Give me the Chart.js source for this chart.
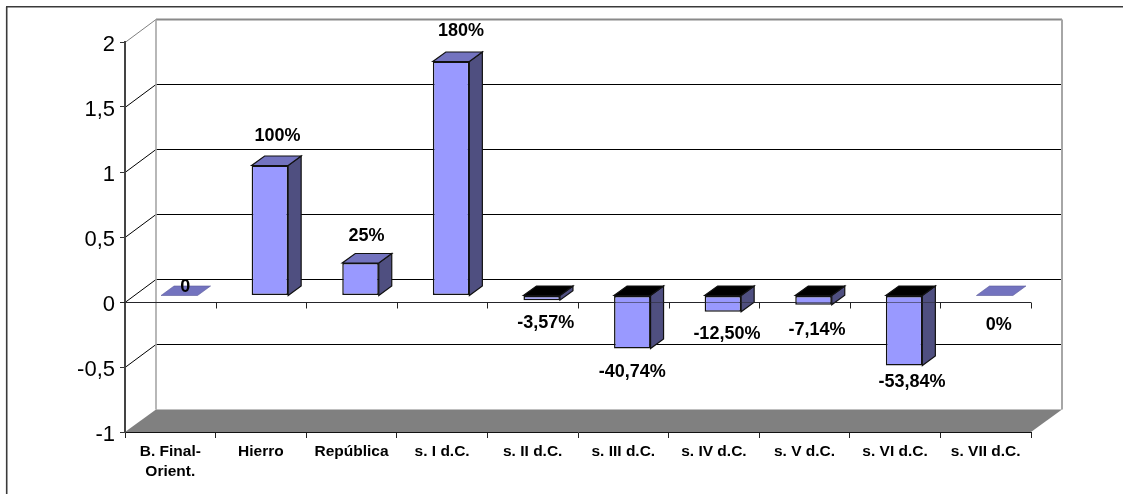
<!DOCTYPE html>
<html><head><meta charset="utf-8">
<style>html,body{margin:0;padding:0;background:#fff}canvas{display:block}</style>
<script src="https://cdn.jsdelivr.net/npm/chart.js@4"></script>
</head><body><canvas id="c" width="1123" height="494"></canvas>
<script>
const categories = [["B. Final-","Orient."],"Hierro","República","s. I d.C.","s. II d.C.","s. III d.C.","s. IV d.C.","s. V d.C.","s. VI d.C.","s. VII d.C."];
const values = [0,1,0.25,1.8,-0.0357,-0.4074,-0.125,-0.0714,-0.5384,0];
const valueLabels = ["0","100%","25%","180%","-3,57%","-40,74%","-12,50%","-7,14%","-53,84%","0%"];
const labelNudgeX = [15,16.5,15,19,13,9,13,12.5,17,13];
const labelNudgeY = [-14.5,-36,-33.5,-37,16.6,17.5,16,19,10,23];
const WALL_DX=31, WALL_DY=22.5, BAR_DX=9, BAR_DY=6.5, DEPTH_X=13, DEPTH_Y=9.5;
function poly(ctx,pts,fill,stroke,lw){ctx.beginPath();pts.forEach((p,i)=>i?ctx.lineTo(p[0],p[1]):ctx.moveTo(p[0],p[1]));ctx.closePath();
  if(fill){ctx.fillStyle=fill;ctx.fill();}
  if(stroke){ctx.strokeStyle=stroke;ctx.lineWidth=lw||1;ctx.stroke();}}
function seg(ctx,a,b,c,d,color,lw){ctx.beginPath();ctx.moveTo(a,b);ctx.lineTo(c,d);ctx.strokeStyle=color;ctx.lineWidth=lw||1;ctx.stroke();}
const scene3d={id:'scene3d',
  beforeDraw(ch){
    const {ctx,chartArea:a,scales:{y}}=ch;
    ctx.save();
    ctx.fillStyle='#fff';ctx.fillRect(0,0,ch.width,ch.height);
    seg(ctx,6.7,494,6.7,6.7,'#3a3a3a',1.6);seg(ctx,6,6.7,1123,6.7,'#3a3a3a',1.6);
    y.ticks.forEach(t=>{
      const py=Math.round(y.getPixelForValue(t.value))+0.5;
      const by=Math.round(py-WALL_DY)-0.5;
      if(t.value===y.max){
        seg(ctx,a.left,py,a.left+WALL_DX,by,'#808080',1);
        seg(ctx,a.left+WALL_DX,by,a.right+WALL_DX,by,'#8a8a8a',2);
      }else if(t.value!==y.min){
        seg(ctx,a.left,py,a.left+WALL_DX,by,'#000',1);
        seg(ctx,a.left+WALL_DX,by,a.right+WALL_DX,by,'#000',1);
      }
    });
    const top=y.getPixelForValue(y.max)-WALL_DY, bot=y.getPixelForValue(y.min);
    seg(ctx,a.left+WALL_DX,top,a.left+WALL_DX,bot-WALL_DY,'#a6a6a6',1.6);
    seg(ctx,a.right+WALL_DX,top,a.right+WALL_DX,bot-WALL_DY,'#a6a6a6',2);
    poly(ctx,[[a.left,bot],[a.right,bot],[a.right+WALL_DX,bot-WALL_DY],[a.left+WALL_DX,bot-WALL_DY]],'#808080');
    const z=Math.round(y.getPixelForValue(0))+0.5;
    seg(ctx,a.left,z,a.right,z,'#222',1);
    ctx.restore();
  },
  beforeDatasetsDraw(ch){
    const {ctx}=ch, z=ch.scales.y;
    ctx.save();
    const base=z.getPixelForValue(0)-BAR_DY;
    ch.getDatasetMeta(0).data.forEach((el,i)=>{
      const l=el.x+BAR_DX-el.width/2, r=el.x+BAR_DX+el.width/2, t=el.y-BAR_DY;
      const v=values[i];
      if(v===0){
        poly(ctx,[[l,t],[r,t],[r+DEPTH_X,t-DEPTH_Y],[l+DEPTH_X,t-DEPTH_Y]],'#7373bf','#5a5a9a',0.6);
        return;
      }
      const upper=Math.min(t,base), lower=Math.max(t,base);
      poly(ctx,[[r,upper],[r+DEPTH_X,upper-DEPTH_Y],[r+DEPTH_X,lower-DEPTH_Y],[r,lower]],'#4f4f80','#111',1.2);
      poly(ctx,[[l,upper],[r,upper],[r+DEPTH_X,upper-DEPTH_Y],[l+DEPTH_X,upper-DEPTH_Y]],v>0?'#7373bf':'#000','#111',1.2);
    });
    ctx.restore();
    ctx.save();
    ctx.translate(BAR_DX,-BAR_DY);
  },
  afterDatasetsDraw(ch){
    const {ctx,chartArea:a,scales:{y}}=ch;
    ctx.restore();
    ctx.save();
    const z=Math.round(y.getPixelForValue(0))+0.5;
    seg(ctx,a.left,z,a.right,z,'rgba(40,40,50,0.55)',1);
    seg(ctx,a.left-5,z,a.left,z,'#222',1);
    categories.forEach((c,i)=>{
      const px=Math.round(a.left+(a.right-a.left)*(i+1)/categories.length)+0.5;
      seg(ctx,px,z,px,z+6,'#222',1);
    });
    ctx.fillStyle='#000';ctx.font='bold 18px "Liberation Sans"';ctx.textAlign='center';ctx.textBaseline='middle';
    ch.getDatasetMeta(0).data.forEach((el,i)=>{
      ctx.fillText(valueLabels[i],el.x+labelNudgeX[i],el.y+labelNudgeY[i]);
    });
    ctx.restore();
  }
};
new Chart(document.getElementById('c'),{
  type:'bar',
  data:{labels:categories,datasets:[{data:values,backgroundColor:'#9999ff',borderColor:'#111',borderWidth:1.5,borderSkipped:false,barPercentage:0.403,categoryPercentage:1}]},
  options:{
    responsive:false,animation:false,devicePixelRatio:1,
    layout:{padding:{top:42,right:92,left:0,bottom:0}},
    plugins:{legend:{display:false},tooltip:{enabled:false},title:{display:false}},
    scales:{
      x:{offset:true,
        afterFit(s){s.height=494-432;},
        grid:{offset:true,drawOnChartArea:false,drawTicks:true,tickLength:6,color:'#222'},
        border:{display:true,color:'#111',width:1},
        ticks:{autoSkip:false,maxRotation:0,minRotation:0,padding:4,color:'#000',font:{family:'"Liberation Sans"',size:15.5,weight:'bold',lineHeight:1.28}}},
      y:{min:-1,max:2,
        afterFit(s){s.width=125;},
        afterBuildTicks(s){s.ticks=[-1,-0.5,0,0.5,1,1.5,2].map(v=>({value:v}));},
        grid:{drawOnChartArea:false,drawTicks:true,tickLength:5,color:'#333'},
        border:{display:true,color:'#444',width:2},
        ticks:{padding:5,labelOffset:3,color:'#000',font:{family:'"Liberation Sans"',size:22},
          callback:v=>String(v).replace('.',',')}}
    }
  },
  plugins:[scene3d]
});
</script></body></html>
